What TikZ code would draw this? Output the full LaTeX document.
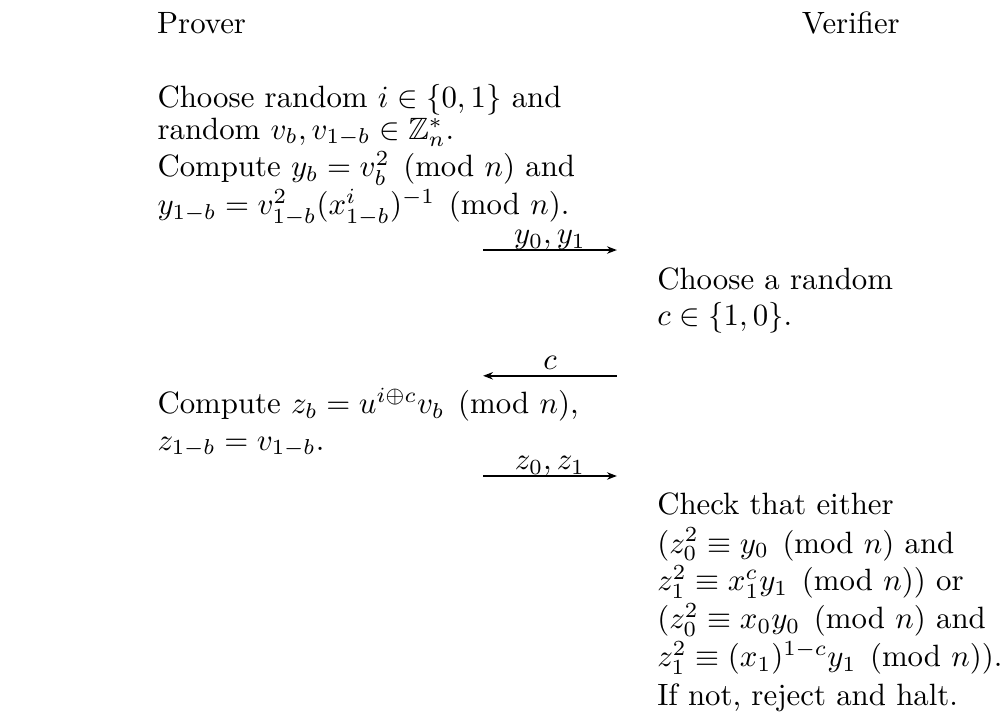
\documentclass[tikz,border=0pt]{standalone}
\usepackage{amsmath}
\usepackage{amssymb}
\usetikzlibrary{arrows.meta,positioning}
\tikzset{
  partyLabel/.style={anchor=base, inner sep=0pt},
  stepLine/.style={anchor=base west, inner sep=0pt},
  msgArrow/.style={-{Stealth[length=3.2pt,width=2.4pt]}, line width=0.6pt},
  msgLabel/.style={midway, anchor=base, yshift=2pt, inner sep=0pt}
}

\begin{document}
\begin{tikzpicture}[x=1pt,y=1pt]
  \useasboundingbox (0,0) rectangle (326,-233);
  % the two parties
  \node[partyLabel] (prover) at (65.4,-10.8) {Prover};
  \node[partyLabel] (verifier) at (276,-10.8) {Verifier};
  % prover commits
  \node[stepLine] (commit1) at (50.9,-35.0) {Choose random $i\in\{0,1\}$ and};
  \node[stepLine] (commit2) at (50.9,-45.2) {random $v_b,v_{1-b}\in\mathbb{Z}_n^*$.};
  \node[stepLine] (commit3) at (50.9,-57.3) {Compute $y_b=v_b^2 \pmod{n}$ and};
  \node[stepLine] (commit4) at (50.9,-69.6) {$y_{1-b}=v_{1-b}^2(x_{1-b}^i)^{-1} \pmod{n}$.};
  \coordinate (m1s) at (156.7,-81.1);
  \coordinate (m1e) at (200.1,-81.1);
  \draw[msgArrow] (m1s) -- (m1e) node[msgLabel]{$y_0,y_1$};
  % verifier challenges
  \node[stepLine] (challenge1) at (213,-93.8) {Choose a random};
  \node[stepLine] (challenge2) at (213,-105.7) {$c\in\{1,0\}$.};
  \coordinate (m2s) at (200.1,-121.9);
  \coordinate (m2e) at (156.7,-121.9);
  \draw[msgArrow] (m2s) -- (m2e) node[msgLabel]{$c$};
  % prover answers
  \node[stepLine] (answer1) at (50.9,-134.1) {Compute $z_b=u^{i\oplus c}v_b \pmod{n}$,};
  \node[stepLine] (answer2) at (50.9,-146.0) {$z_{1-b}=v_{1-b}$.};
  \coordinate (m3s) at (156.7,-154.4);
  \coordinate (m3e) at (200.1,-154.4);
  \draw[msgArrow] (m3s) -- (m3e) node[msgLabel]{$z_0,z_1$};
  % verifier checks
  \node[stepLine] (check1) at (213,-167.0) {Check that either};
  \node[stepLine] (check2) at (213,-179.4) {$(z_0^2\equiv y_0 \pmod{n}$ and};
  \node[stepLine] (check3) at (213,-191.7) {$z_1^2\equiv x_1^c y_1 \pmod{n})$ or};
  \node[stepLine] (check4) at (213,-204.0) {$(z_0^2\equiv x_0 y_0 \pmod{n}$ and};
  \node[stepLine] (check5) at (213,-216.3) {$z_1^2\equiv (x_1)^{1-c} y_1 \pmod{n})$.};
  \node[stepLine] (check6) at (213,-228.7) {If not, reject and halt.};
\end{tikzpicture}
\end{document}
